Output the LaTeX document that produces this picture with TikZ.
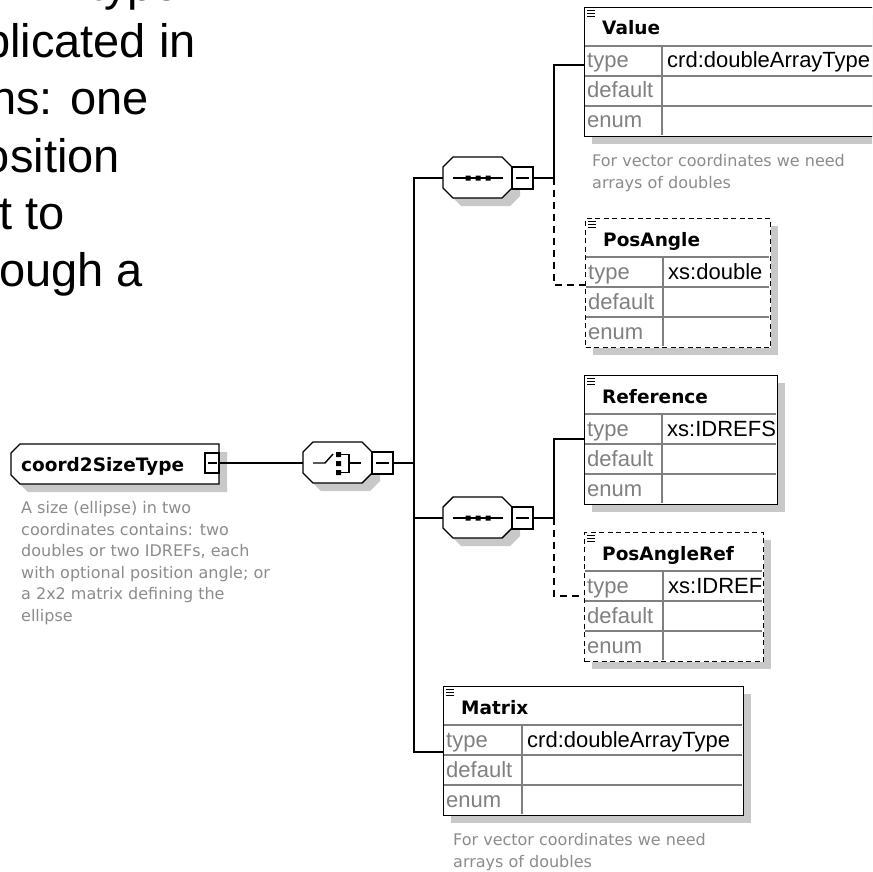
\documentclass[tikz,border=0pt]{standalone}
\usepackage{fontspec}
\setmainfont{Liberation Sans}
\newfontfamily\uifont{DejaVu Sans}
\definecolor{shadowgray}{RGB}{200,200,200}
\definecolor{labelgray}{RGB}{128,128,128}
\definecolor{notegray}{RGB}{140,140,140}
\definecolor{rowgray}{RGB}{128,128,128}
\newcommand\titlefont{\uifont\bfseries\fontsize{18.5}{22}\selectfont}
\newcommand\cellfont{\fontsize{22}{24}\selectfont}
\newcommand\notefont{\uifont\fontsize{16}{22}\selectfont}
\newcommand\bigfont{\fontsize{47}{57}\selectfont}

\tikzset{
  conn/.style={line width=1.4pt},
  optconn/.style={line width=1.4pt, dash pattern=on 7pt off 5pt},
  elbox/.style={draw, line width=1.4pt, fill=white, inner sep=0pt, anchor=north west},
  optbox/.style={dash pattern=on 5pt off 3.5pt},
  reqbox/.style={},
  rowline/.style={draw=rowgray, line width=1.2pt},
  titletext/.style={font=\titlefont, anchor=base west, inner sep=0pt},
  lbl/.style={text=labelgray, font=\cellfont, anchor=base west, inner sep=0pt},
  val/.style={font=\cellfont, anchor=base west, inner sep=0pt},
  note/.style={text=notegray, font=\notefont, anchor=base west, inner sep=0pt},
  bigtext/.style={font=\bigfont, anchor=base east, inner sep=0pt},
  compbox/.style={draw, line width=1.4pt, fill=white},
  minusbox/.style={draw, line width=1.4pt, fill=white, inner sep=0pt, minimum width=21pt, minimum height=22pt},
}

% element box: name, left, top, right, column divider, title, type, border style
\newcommand\xsdelem[8]{%
  \fill[shadowgray] (#2+8,#3+8) rectangle (#4+8,#3+137);
  \node[elbox,#8,minimum width=#4-#2,minimum height=129] (#1) at (#2,#3) {};
  \draw[rowline] (#2+1,#3+39) -- (#4-1,#3+39)
                 (#2+1,#3+69) -- (#4-1,#3+69)
                 (#2+1,#3+99) -- (#4-1,#3+99)
                 (#5,#3+39) -- (#5,#3+128);
  \draw[line width=1.2pt] (#2+3,#3+3.5) -- ++(8,0) (#2+3,#3+6.5) -- ++(8,0) (#2+3,#3+9.5) -- ++(8,0);
  \node[titletext] at (#2+18,#3+28) {#6};
  \node[lbl] at (#2+3,#3+61) {type};
  \node[lbl] at (#2+3,#3+91) {default};
  \node[lbl] at (#2+3,#3+121) {enum};
  \node[val] at (#5+5,#3+61) {#7};
}

% compositor outline with chamfered corners: left, centre y
\newcommand\compoutline[2]{%
  (#1,#2-11) -- (#1+10,#2-21) -- (#1+59,#2-21) -- (#1+69,#2-11) --
  (#1+69,#2+10) -- (#1+59,#2+20) -- (#1+10,#2+20) -- (#1,#2+10) -- cycle}

% compositor: name, left, centre y
\newcommand\compositor[3]{%
  \fill[shadowgray,shift={(8,8)}] \compoutline{#2}{#3};
  \draw[compbox] \compoutline{#2}{#3};
  \node[minusbox] (#1-m) at (#2+79.5,#3) {};
  \draw[line width=1.4pt] (#2+73,#3) -- (#2+86,#3);
  \coordinate (#1-in) at (#2,#3);
}

\begin{document}
\begin{tikzpicture}[x=1pt,y=-1pt]
\clip (0,0) rectangle (872,872);
\fill[white] (0,0) rectangle (872,872);

% running text at the left
\node[bigtext] at (180,1) {type};
\node[bigtext] at (196,58) {plicated in};
\node[bigtext] at (149,115) {ns: one};
\node[bigtext] at (120,172) {osition};
\node[bigtext] at (65,229) {t to};
\node[bigtext] at (143,286) {ough a};

% root type
\fill[shadowgray,shift={(8,8)}] (20,444) -- (219,444) -- (219,484) -- (20,484) -- (11,475) -- (11,453) -- cycle;
\draw[compbox] (20,444) -- (219,444) -- (219,484) -- (20,484) -- (11,475) -- (11,453) -- cycle;
\node[titletext] (root) at (21,471) {coord2SizeType};
\node[minusbox, minimum width=14pt, minimum height=20pt] (root-m) at (212,463) {};
\draw[line width=1.4pt] (207.5,463) -- (216.5,463);
\node[note] (rootnote1) at (21,513) {A size (ellipse) in two};
\node[note] (rootnote2) at (21,535) {coordinates contains: two};
\node[note] (rootnote3) at (21,556.5) {doubles or two IDREFs, each};
\node[note] (rootnote4) at (21,578) {with optional position angle; or};
\node[note] (rootnote5) at (21,599.5) {a 2x2 matrix defining the};
\node[note] (rootnote6) at (21,621) {ellipse};

% choice
\compositor{choice}{303}{463}
\draw[line width=1.4pt] (313,463) -- (325,463) -- (333,454);
\fill (336,452) rectangle (341,457) (336,461) rectangle (341,466) (336,470) rectangle (341,475);
\draw[line width=1.4pt] (341,454.5) -- (349,454.5) -- (349,472.5) -- (341,472.5) (349,463) -- (361,463);

% two sequences
\compositor{seqA}{443}{178}
\compositor{seqB}{443}{518}
\foreach \yy in {178,518}{
  \draw[line width=1.4pt] (453,\yy) -- (503,\yy);
  \fill (465.5,\yy-2.5) rectangle (470.5,\yy+2.5) (475.5,\yy-2.5) rectangle (480.5,\yy+2.5) (485.5,\yy-2.5) rectangle (490.5,\yy+2.5);
}

% elements
\xsdelem{value}{584}{7}{900}{662}{Value}{crd:doubleArrayType}{reqbox}
\xsdelem{posangle}{585}{218}{770}{663}{PosAngle}{xs:double}{optbox}
\xsdelem{reference}{584}{375}{777}{662}{Reference}{xs:IDREFS}{reqbox}
\xsdelem{posangleref}{584}{532}{763}{663}{PosAngleRef}{xs:IDREF}{optbox}
\xsdelem{matrix}{443}{686}{743}{522}{Matrix}{crd:doubleArrayType}{reqbox}

\node[note] (valuenote1) at (592,166) {For vector coordinates we need};
\node[note] (valuenote2) at (592,188) {arrays of doubles};
\node[note] (matrixnote1) at (453,845) {For vector coordinates we need};
\node[note] (matrixnote2) at (453,867) {arrays of doubles};

% connector end points
\coordinate (value-in) at (584,65);
\coordinate (posangle-in) at (585,285);
\coordinate (reference-in) at (584,439);
\coordinate (posangleref-in) at (584,596);
\coordinate (matrix-in) at (443,752);
\coordinate (bus) at (414,463);
\coordinate (seqA-j) at (554,178);
\coordinate (seqB-j) at (554,518);

% connectors
\draw[conn] (root-m.east) -- (choice-in);
\draw[conn] (choice-m.east) -- (bus);
\draw[conn] (seqA-in) -| (bus) |- (matrix-in);
\draw[conn] (bus) |- (seqB-in);
\draw[conn] (seqA-m.east) -- (seqA-j) |- (value-in);
\draw[optconn] (seqA-j) |- (posangle-in);
\draw[conn] (seqB-m.east) -- (seqB-j) |- (reference-in);
\draw[optconn] (seqB-j) |- (posangleref-in);
\end{tikzpicture}
\end{document}
